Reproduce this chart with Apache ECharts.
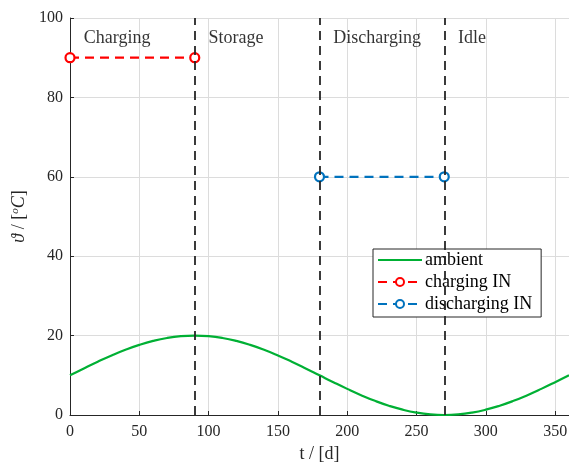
<!DOCTYPE html>
<html><head><meta charset="utf-8">
<script src="https://cdn.jsdelivr.net/npm/echarts@6/dist/echarts.min.js"></script>
<style>html,body{margin:0;padding:0;background:#fff}#c{width:569px;height:463px}</style>
</head><body><div id="c"></div>
<script>
const tDays = [0,10,20,30,40,50,60,70,80,90,100,110,120,130,140,150,160,170,180,190,200,210,220,230,240,250,260,270,280,290,300,310,320,330,340,350,360];
const ambient = [10,11.74,13.42,15,16.43,17.66,18.66,19.4,19.85,20,19.85,19.4,18.66,17.66,16.43,15,13.42,11.74,10,8.26,6.58,5,3.57,2.34,1.34,0.6,0.15,0,0.15,0.6,1.34,2.34,3.57,5,6.58,8.26,10];
const chargingT = [0,90];
const chargingIN = [90,90];
const dischargingT = [180,270];
const dischargingIN = [60,60];
const phaseBounds = [90,180,270];
const phaseNames = ['Charging','Storage','Discharging','Idle'];
const phaseLabelX = [10,100,190,280];
const phaseLabelY = 95;

const font = 'Liberation Serif';
const chart = echarts.init(document.getElementById('c'));
const axisCommon = {
  axisLine:{show:true,lineStyle:{color:'#262626',width:1}},
  axisTick:{show:true,inside:true,length:4,lineStyle:{color:'#262626'}},
  splitLine:{show:true,lineStyle:{color:'#dcdcdc',width:1}}
};
chart.setOption({
  animation:false,
  grid:{left:70,right:0,top:18,bottom:48,containLabel:false,outerBoundsMode:'none'},
  xAxis:Object.assign({type:'value',min:0,max:360,interval:50,
    name:'t / [d]',nameLocation:'middle',nameGap:30,
    nameTextStyle:{color:'#262626',fontFamily:font,fontSize:18}},axisCommon,
    {axisLabel:{color:'#262626',fontFamily:font,fontSize:16,margin:9,showMaxLabel:false}}),
  yAxis:Object.assign({type:'value',min:0,max:100,interval:20,
    name:'{i|ϑ} / [{s|o}{i|C}]',nameLocation:'middle',nameGap:32,
    nameTextStyle:{color:'#262626',fontFamily:font,fontSize:18,
      rich:{i:{fontStyle:'italic',fontFamily:font,fontSize:18,color:'#262626'},
            s:{fontStyle:'italic',fontFamily:font,fontSize:11,color:'#262626',verticalAlign:'top',padding:[0,0,7,0]}}}},axisCommon,
    {axisLabel:{color:'#262626',fontFamily:font,fontSize:16,margin:7}}),
  legend:{
    left:373,top:249,orient:'vertical',
    backgroundColor:'#fff',borderColor:'#262626',borderWidth:1,
    padding:[2,9,4,4],itemGap:4,itemWidth:44,itemHeight:10,
    textStyle:{fontFamily:font,fontSize:18,color:'#000',padding:[0,0,0,-2]},
    data:[{name:'ambient',itemStyle:{opacity:0}},'charging IN','discharging IN']
  },
  series:[
    {name:'ambient',type:'line',smooth:true,showSymbol:false,symbol:'none',
     data:tDays.map((t,i)=>[t,ambient[i]]),
     lineStyle:{color:'#00b034',width:2.2},itemStyle:{color:'#00b034'},z:3,
     markLine:{silent:true,symbol:'none',label:{show:false},
       lineStyle:{color:'#262626',type:[9,6],width:1.8},
       data:phaseBounds.map(x=>({xAxis:x}))}},
    {name:'charging IN',type:'line',data:chargingT.map((t,i)=>[t,chargingIN[i]]),
     symbol:'circle',symbolSize:9,
     lineStyle:{color:'#ff0000',type:[9,6],width:2.2},
     itemStyle:{color:'#fff',borderColor:'#ff0000',borderWidth:2.2},z:4},
    {name:'discharging IN',type:'line',data:dischargingT.map((t,i)=>[t,dischargingIN[i]]),
     symbol:'circle',symbolSize:9,
     lineStyle:{color:'#0072bd',type:[9,6],width:2.2},
     itemStyle:{color:'#fff',borderColor:'#0072bd',borderWidth:2.2},z:4},
    {name:'phases',type:'scatter',symbolSize:0,silent:true,
     data:phaseNames.map((n,i)=>({name:n,value:[phaseLabelX[i],phaseLabelY]})),
     label:{show:true,position:'right',distance:0,formatter:p=>p.name,
       fontFamily:font,fontSize:18,color:'#000'}}
  ]
});
</script></body></html>
